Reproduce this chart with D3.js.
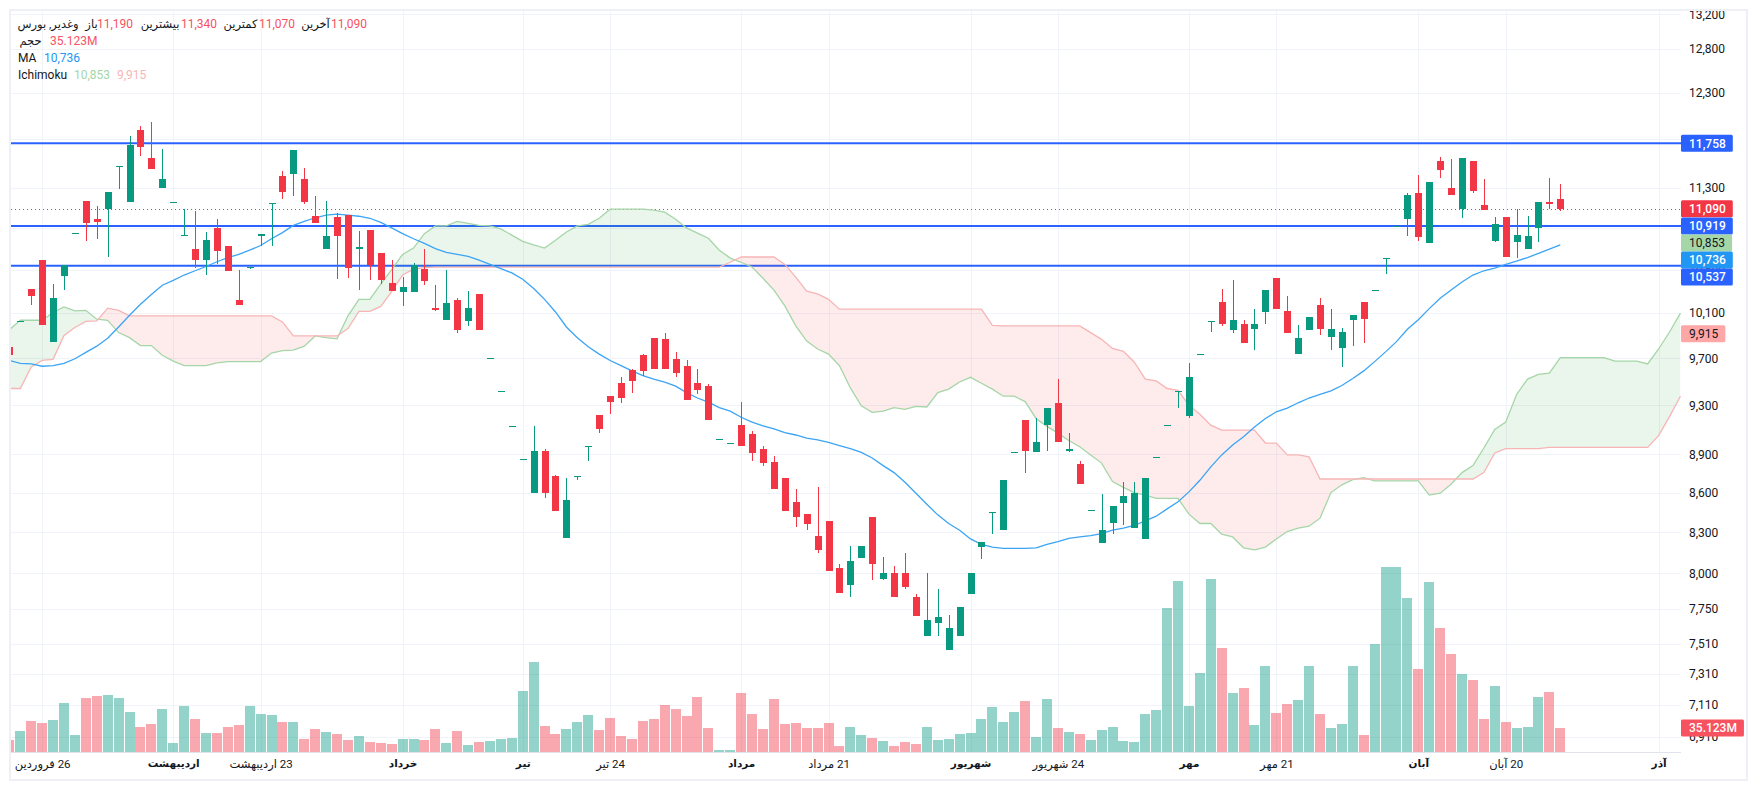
<!DOCTYPE html>
<html>
<head>
<meta charset="utf-8">
<script src="https://cdn.jsdelivr.net/npm/d3@7"></script>
<style>
	html, body {margin: 0; padding: 0; background: #fff;}
	svg {display: block;}
	text {font-family: Roboto, "DejaVu Sans", sans-serif; font-size: 12px; fill: #131722;}
</style>
</head>
<body>
<script>
const opens = [9800,10030,10320,10590,9840,10440,10850,11170,10990,11090,11520,11160,11900,11600,11300,11160,10830,10700,10590,10900,10730,10220,10530,10820,11150,11420,11440,11390,11020,10700,11010,11030,10700,10880,10660,10380,10290,10290,10510,10150,10040,10220,10030,10270,9700,9420,9130,8860,8600,8930,8730,8260,8730,8970,9220,9380,9490,9600,9730,9880,9870,9690,9630,9490,9460,9020,8990,9140,9060,8940,8840,8710,8530,8440,8270,8380,8040,7920,8110,8410,7960,8000,8000,7830,7560,7650,7470,7560,7850,8190,8450,8320,8920,9180,8920,9140,9320,8930,8820,8470,8220,8370,8520,8330,8250,8880,9140,9420,9210,9740,10030,10200,9950,10000,9960,10110,10420,10120,9740,9950,10170,9890,9790,10040,10200,10310,10610,10920,10990,11250,10750,11570,11300,11090,11570,11130,10770,11010,10760,10700,10900,11160,11190];
const highs = [10000,10030,10320,10590,10370,10540,10850,11170,11120,11260,11520,11840,11940,11990,11700,11160,11090,11070,10860,10990,10730,10500,10530,10840,11150,11470,11690,11500,11220,11170,11050,11030,10870,10880,10660,10590,10430,10560,10700,10360,10500,10240,10300,10270,9700,9420,9130,8860,9130,8940,8740,8710,8730,8970,9220,9380,9540,9610,9740,9880,9920,9750,9680,9610,9480,9020,8990,9330,9090,8970,8890,8710,8630,8440,8640,8380,8070,8200,8200,8410,8120,8050,8150,7850,8000,7890,7710,7760,8000,8230,8450,8700,8920,9180,9190,9280,9520,9070,8850,8470,8590,8500,8680,8680,8710,8880,9140,9420,9660,9740,10030,10320,10400,10040,10140,10310,10420,10260,9990,10060,10240,10140,9970,10080,10200,10310,10610,10920,11250,11430,11360,11610,11590,11600,11570,11390,11010,11010,11090,11020,11160,11400,11340];
const lows = [9500,10030,10170,9990,9840,10310,10850,10770,10790,10620,11290,11160,11630,11490,11300,11160,10830,10520,10450,10550,10490,10170,10510,10730,10730,11190,11220,11140,10950,10700,10410,10420,10310,10400,10370,10300,10160,10290,10360,10120,10040,9920,9980,9950,9700,9420,9130,8860,8600,8560,8460,8260,8700,8850,9070,9230,9320,9400,9550,9610,9610,9540,9340,9390,9180,9020,8990,8970,8850,8810,8630,8460,8340,8320,8150,8020,7860,7830,8110,7950,7950,7830,7890,7700,7560,7560,7470,7560,7850,8100,8290,8320,8920,8750,8920,8930,9000,8920,8670,8470,8220,8290,8350,8330,8250,8880,9140,9280,9190,9740,9930,9980,9920,9830,9770,10000,10140,9920,9740,9950,9900,9770,9620,9810,9830,10310,10460,10920,10820,10770,10750,11400,11230,11000,11250,11080,10760,10620,10610,10700,10760,11090,11070];
const closes = [9730,10030,10260,9990,10240,10540,10850,10950,10960,11260,11520,11740,11720,11490,11390,11160,10830,10590,10780,10680,10490,10170,10530,10840,11150,11260,11690,11160,10950,10820,10820,10520,10720,10540,10400,10300,10340,10540,10390,10130,10190,9950,10150,9950,9700,9420,9130,8860,8930,8600,8460,8540,8730,8970,9100,9330,9360,9500,9590,9610,9610,9570,9340,9430,9180,9020,8990,8970,8910,8830,8630,8460,8410,8360,8170,8020,7860,8090,8200,8070,8000,7830,7900,7700,7670,7690,7620,7760,8000,8230,8450,8700,8920,8930,9000,9280,9000,8940,8670,8470,8320,8500,8570,8600,8710,8880,9140,9420,9540,9740,10030,10000,10040,9830,10000,10310,10140,9920,9880,10060,9960,9960,9930,10080,10050,10310,10610,10920,11230,10810,11360,11480,11230,11600,11270,11080,10940,10620,10830,10820,11160,11140,11090];

// volume in millions
const volumes = [17.8,30.8,45.3,42.4,46.7,71.3,25.0,78.5,81.4,82.9,78.5,58.3,36.6,40.9,62.6,13.5,67.0,48.2,27.9,27.9,36.6,39.5,67.0,55.4,54.0,43.8,43.8,19.3,33.7,29.4,26.5,17.8,23.6,14.9,13.5,12.0,19.3,19.3,17.8,33.7,13.5,30.8,10.6,14.9,16.4,19.3,20.7,88.6,130.5,38.1,26.5,33.7,43.8,54.0,32.3,49.6,23.6,19.3,45.3,48.2,68.4,62.6,52.5,80.0,35.2,3.4,3.4,85.7,55.4,33.7,77.1,40.9,42.4,35.2,35.2,42.4,9.2,36.6,25.0,20.7,16.4,9.2,14.9,12.0,36.6,17.8,19.3,26.5,27.9,48.2,65.5,43.8,58.3,74.2,22.2,77.1,35.2,29.4,26.5,17.8,32.3,36.6,16.4,14.9,55.4,61.2,208.6,247.6,67.0,114.6,250.5,150.8,85.7,93.0,39.5,124.8,56.8,69.8,75.6,124.8,55.4,35.2,40.9,124.8,25.0,156.6,267.8,267.8,223.0,120.4,246.1,179.7,142.1,113.2,104.5,48.2,95.9,43.8,35.2,36.6,80.0,87.2,35.123];

const maValues = [9680,9655,9650,9630,9635,9655,9695,9750,9805,9875,9975,10080,10180,10270,10355,10400,10450,10490,10530,10575,10615,10645,10685,10730,10795,10855,10925,10965,11000,11025,11035,11025,11015,10995,10955,10900,10845,10795,10750,10700,10665,10645,10625,10590,10550,10510,10470,10410,10325,10225,10110,9975,9880,9800,9735,9680,9635,9590,9550,9520,9495,9460,9405,9360,9325,9280,9250,9200,9160,9130,9105,9075,9055,9030,9015,8995,8970,8945,8915,8870,8810,8755,8680,8595,8510,8430,8365,8315,8250,8210,8190,8180,8180,8180,8185,8210,8230,8255,8265,8275,8290,8315,8330,8350,8385,8420,8475,8530,8605,8695,8800,8895,8975,9040,9120,9190,9245,9275,9320,9360,9390,9420,9465,9525,9590,9670,9755,9845,9955,10040,10140,10235,10310,10385,10450,10490,10515,10550,10580,10615,10655,10695,10736];

const spanA = [9950,10035,10035,10035,10105,10155,10120,10125,10045,10035,9925,9880,9810,9810,9725,9675,9635,9635,9635,9660,9670,9670,9670,9670,9745,9765,9770,9805,9895,9880,9870,10075,10225,10225,10365,10500,10645,10705,10845,10920,10920,10965,10945,10925,10920,10890,10830,10770,10735,10705,10780,10860,10920,10935,10995,11085,11085,11085,11085,11075,11055,10985,10900,10850,10800,10685,10610,10570,10525,10420,10310,10165,9985,9850,9780,9735,9635,9445,9295,9240,9250,9280,9265,9290,9285,9405,9435,9495,9535,9485,9435,9375,9375,9330,9190,9125,9070,9010,8960,8895,8830,8685,8640,8600,8580,8555,8555,8555,8435,8365,8365,8285,8265,8185,8170,8190,8250,8305,8330,8345,8405,8600,8660,8700,8715,8690,8690,8690,8690,8690,8580,8595,8665,8755,8810,8950,9100,9160,9390,9520,9560,9570,9705,9705,9705,9705,9705,9675,9675,9675,9650,9780,9930,10100];
const spanB = [9440,9440,9625,9680,9690,9900,9970,10025,10030,10145,10125,10075,10075,10075,10075,10075,10075,10075,10075,10075,10075,10075,10075,10075,10075,10020,9895,9895,9895,9895,9895,9960,10115,10115,10160,10295,10450,10505,10520,10525,10525,10525,10525,10525,10525,10525,10525,10525,10525,10525,10525,10525,10525,10525,10525,10525,10525,10525,10525,10525,10525,10525,10525,10525,10525,10525,10570,10620,10620,10620,10620,10550,10430,10300,10275,10225,10135,10135,10135,10135,10135,10135,10135,10135,10135,10135,10135,10135,10135,10135,9990,9985,9985,9985,9985,9985,9985,9985,9985,9925,9865,9785,9760,9665,9520,9505,9440,9425,9300,9225,9135,9095,9095,9095,9095,8990,8990,8895,8895,8880,8705,8705,8705,8705,8705,8705,8705,8705,8705,8705,8705,8705,8705,8705,8705,8755,8910,8945,8945,8945,8945,8955,8955,8955,8955,8955,8955,8955,8955,8955,8955,9050,9205,9375];

const yTicks = [13200,12800,12300,11800,11300,10900,10500,10100,9700,9300,8900,8600,8300,8000,7750,7510,7310,7110,6910];
const hLevels = [11758,10919,10537];
const lastPrice = 11090;
const lastVolume = 35.123;
const xTickBars = [3,15,23,36,47,55,67,75,88,96,108,116,129,137,151];
const xTickLabels = ["26 فروردین","اردیبهشت","23 اردیبهشت","خرداد","تیر","24 تیر","مرداد","21 مرداد","شهریور","24 شهریور","مهر","21 مهر","آبان","20 آبان","آذر"];
const monthLabels = ["اردیبهشت","خرداد","تیر","مرداد","شهریور","مهر","آبان","آذر"];

const green = "#089981", red = "#f23645", blue = "#2962ff", maBlue = "#2196f3";
const gridColor = "#f0f3fa", edgeColor = "#eef0f5";
const width = 1757, height = 790;
const plot = {left: 11, right: 1681, top: 11, bottom: 752};

const svg = d3.select("body").append("svg")
	.attr("width", width)
	.attr("height", height);

const defs = svg.append("defs");
defs.append("clipPath").attr("id", "plotClip")
	.append("rect")
	.attr("x", plot.left).attr("y", plot.top)
	.attr("width", plot.right - plot.left).attr("height", plot.bottom - plot.top);

//scales
const x = d3.scaleLinear().domain([0, 142]).range([9.4, 1560.3]);
const y = d3.scaleLog().domain([13200, 8000]).range([14.2, 573.3]);
const vol = d3.scaleLinear().domain([0, 267.8]).range([752.3, 567]);
const px = i => Math.round(x(i));

//frame
svg.append("rect")
	.attr("x", 10).attr("y", 10)
	.attr("width", 1737).attr("height", 770)
	.attr("fill", "#fff")
	.attr("stroke", edgeColor)
	.attr("stroke-width", 2);

const chart = svg.append("g").attr("clip-path", "url(#plotClip)");

//grid
const grid = chart.append("g").attr("stroke", gridColor).attr("shape-rendering", "crispEdges");
grid.selectAll(".h").data(yTicks).join("line")
	.attr("x1", plot.left).attr("x2", plot.right)
	.attr("y1", d => Math.round(y(d))).attr("y2", d => Math.round(y(d)));
grid.selectAll(".v").data(xTickBars).join("line")
	.attr("x1", px).attr("x2", px)
	.attr("y1", plot.top).attr("y2", plot.bottom);

//volume
chart.append("g").selectAll("rect").data(volumes).join("rect")
	.attr("x", (d, i) => px(i) - 5)
	.attr("width", 10)
	.attr("y", d => Math.round(vol(d)))
	.attr("height", d => Math.round(vol(0)) - Math.round(vol(d)))
	.attr("fill", (d, i) => closes[i] >= opens[i] ? green : red)
	.attr("fill-opacity", 0.43);

//support and resistance lines
chart.append("g").selectAll("line").data(hLevels).join("line")
	.attr("x1", plot.left).attr("x2", plot.right)
	.attr("y1", d => y(d)).attr("y2", d => y(d))
	.attr("stroke", blue)
	.attr("stroke-width", 2);

chart.append("line")
	.attr("x1", plot.left).attr("x2", plot.right)
	.attr("y1", Math.round(y(lastPrice)) + 0.5).attr("y2", Math.round(y(lastPrice)) + 0.5)
	.attr("stroke", red)
	.attr("stroke-dasharray", "1,3");

//ichimoku cloud
const band = d3.area().x((d, i) => x(i)).y0((d, i) => y(spanB[i])).y1(d => y(d));
const aboveSpan = d3.area().x((d, i) => x(i)).y0(0).y1(d => y(d));
defs.append("clipPath").attr("id", "clipAboveB").append("path").attr("d", aboveSpan(spanB));
defs.append("clipPath").attr("id", "clipAboveA").append("path").attr("d", aboveSpan(spanA));

chart.append("path").attr("d", band(spanA))
	.attr("clip-path", "url(#clipAboveB)")
	.attr("fill", "#43a047").attr("fill-opacity", 0.11);
chart.append("path").attr("d", band(spanA))
	.attr("clip-path", "url(#clipAboveA)")
	.attr("fill", red).attr("fill-opacity", 0.1);

const spanLine = d3.line().x((d, i) => x(i)).y(d => y(d));
chart.append("path").attr("d", spanLine(spanA)).attr("fill", "none").attr("stroke", "#a5d6a7").attr("stroke-width", 1.3);
chart.append("path").attr("d", spanLine(spanB)).attr("fill", "none").attr("stroke", "#f7b5b5").attr("stroke-width", 1.3);

//moving average
chart.append("path").attr("d", spanLine(maValues)).attr("fill", "none").attr("stroke", "#3ba4f5").attr("stroke-width", 1.3);

//candles
const candle = chart.append("g").attr("shape-rendering", "crispEdges")
	.selectAll("g").data(opens).join("g")
	.attr("fill", (d, i) => closes[i] >= opens[i] ? green : red);
candle.append("rect")
	.attr("x", (d, i) => px(i))
	.attr("width", 1)
	.attr("y", (d, i) => Math.round(y(highs[i])))
	.attr("height", (d, i) => Math.max(1, Math.round(y(lows[i])) - Math.round(y(highs[i]))));
candle.append("rect")
	.attr("x", (d, i) => px(i) - 3)
	.attr("width", 7)
	.attr("y", (d, i) => Math.round(y(Math.max(opens[i], closes[i]))))
	.attr("height", (d, i) => Math.max(1, Math.round(y(Math.min(opens[i], closes[i]))) - Math.round(y(Math.max(opens[i], closes[i])))));

//baseline of the time axis
svg.append("line")
	.attr("x1", plot.left).attr("x2", 1681)
	.attr("y1", 752.5).attr("y2", 752.5)
	.attr("stroke", "#e0e3eb");

//x axis
const xAxis = d3.axisBottom(x)
	.tickValues(xTickBars)
	.tickFormat((d, i) => xTickLabels[i])
	.tickSize(0)
	.tickPadding(0);
svg.append("g")
	.attr("transform", "translate(0,760)")
	.call(xAxis)
	.call(g => g.select(".domain").remove())
	.selectAll("text")
	.attr("direction", "rtl")
	.style("font-size", d => monthLabels.includes(xTickLabels[xTickBars.indexOf(d)]) ? "10.5px" : "11.5px")
	.style("font-weight", d => monthLabels.includes(xTickLabels[xTickBars.indexOf(d)]) ? "700" : "400");

//y axis
svg.append("clipPath").attr("id", "axisClip")
	.append("rect").attr("x", 1681).attr("y", 11).attr("width", 66).attr("height", 741);
const yAxis = d3.axisRight(y)
	.tickValues(yTicks)
	.tickFormat(d3.format(","))
	.tickSize(0)
	.tickPadding(8);
svg.append("g")
	.attr("clip-path", "url(#axisClip)")
	.append("g")
	.attr("transform", "translate(1681,0)")
	.call(yAxis)
	.call(g => g.select(".domain").remove());

//price tags, stacked so they do not cover each other
function tag(label, cy, fill, textFill) {
	const g = svg.append("g");
	const t = g.append("text")
		.attr("x", 1689).attr("y", cy)
		.attr("dy", "0.36em")
		.style("fill", textFill)
		.style("font-weight", textFill === "#fff" ? "500" : "400")
		.text(label);
	const w = t.node().getComputedTextLength();
	g.insert("rect", "text")
		.attr("x", 1681).attr("y", cy - 8.5)
		.attr("width", w + 15).attr("height", 17)
		.attr("rx", 1.5)
		.attr("fill", fill);
}

const fmt = d3.format(",");
const stacked = [
	{value: 11090, fill: red, text: "#fff"},
	{value: 10919, fill: blue, text: "#fff"},
	{value: 10853, fill: "#a5d6a7", text: "#131722"},
	{value: 10736, fill: maBlue, text: "#fff"},
	{value: 10537, fill: blue, text: "#fff"}
];
tag(fmt(11758), y(11758), blue, "#fff");
tag(fmt(9915), y(9915), "#ffa6a6", "#131722");
let prev = -Infinity;
stacked.forEach(s => {
	const cy = Math.max(y(s.value), prev + 17);
	tag(fmt(s.value), cy, s.fill, s.text);
	prev = cy;
});
tag(lastVolume + "M", vol(lastVolume), "#f7525f", "#fff");

//legend
const legend = svg.append("g");
const valueRed = "#f7525f";
function persian(cx, cy, s) {
	legend.append("text").attr("x", cx).attr("y", cy).attr("dy", "0.36em")
		.attr("text-anchor", "middle").attr("direction", "rtl")
		.style("font-size", "11.5px").text(s);
}
function latin(lx, cy, s, fill) {
	legend.append("text").attr("x", lx).attr("y", cy).attr("dy", "0.36em")
		.style("fill", fill).text(s);
}
persian(48, 24, "وغدیر, بورس");
persian(91.5, 24, "باز");
latin(97, 24, "11,190", valueRed);
persian(160, 24, "بیشترین");
latin(181, 24, "11,340", valueRed);
persian(240.5, 24, "کمترین");
latin(259, 24, "11,070", valueRed);
persian(315.5, 24, "آخرین");
latin(331, 24, "11,090", valueRed);
persian(30.5, 41, "حجم");
latin(50, 41, "35.123M", valueRed);
latin(18, 58, "MA", "#131722");
latin(44, 58, "10,736", maBlue);
latin(18, 75, "Ichimoku", "#131722");
latin(74, 75, "10,853", "#a5d6a7");
latin(117, 75, "9,915", "#f7b5b5");
</script>
</body>
</html>
